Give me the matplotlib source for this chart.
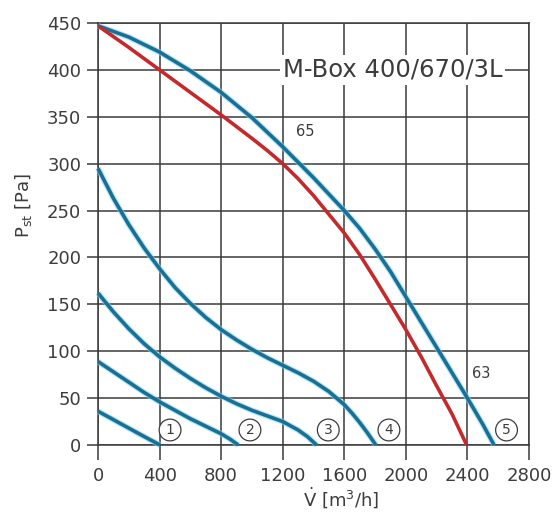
import matplotlib
matplotlib.use("Agg")
import matplotlib.pyplot as plt

plt.rcParams['font.family'] = ['DejaVu Sans']
plt.rcParams['mathtext.fontset'] = 'dejavusans'

# Data (flow V [m3/h], pressure P [Pa])
c1_x = [0, 100, 200, 300, 403]
c1_y = [36, 27, 18, 9, 0]

c2_x = [0, 100, 200, 300, 400, 500, 600, 700, 800, 860, 911]
c2_y = [89, 78, 67, 56, 46, 37, 28, 20, 12, 6, 0]

c3_x = [0, 100, 200, 300, 400, 500, 600, 700, 800, 900, 1000, 1100, 1200, 1300, 1360, 1420]
c3_y = [162, 142, 124, 108, 94, 82, 71, 61, 52, 44, 37, 31, 25, 16, 9, 0]

c4_x = [0, 100, 200, 300, 400, 500, 600, 700, 800, 900, 1000, 1100, 1200, 1300, 1400,
        1500, 1600, 1650, 1700, 1750, 1805]
c4_y = [295, 263, 235, 210, 188, 168, 151, 136, 123, 112, 102, 93, 85, 77, 68,
        57, 43, 34, 24, 13, 0]

c5_x = [0, 200, 400, 600, 800, 1000, 1200, 1400, 1600, 1700, 1800, 1900, 2000, 2100,
        2200, 2300, 2400, 2500, 2573]
c5_y = [447, 435, 419, 399, 376, 349, 318, 285, 250, 231, 209, 185, 158, 131,
        104, 77, 50, 22, 0]

red_x = [0, 200, 400, 600, 800, 1000, 1100, 1200, 1300, 1400, 1500, 1600, 1700, 1800,
         1900, 2000, 2100, 2200, 2300, 2395]
red_y = [447, 424, 400, 376, 352, 327, 314, 300, 284, 266, 246, 226, 203, 177,
         150, 123, 94, 63, 33, 0]

curve_labels = ['1', '2', '3', '4', '5']
curve_label_x = [468, 987, 1496, 1890, 2654]
curve_label_y = [16, 16, 16, 16, 16]

x_ticks = [0, 400, 800, 1200, 1600, 2000, 2400, 2800]
y_ticks = [0, 50, 100, 150, 200, 250, 300, 350, 400, 450]

title = "M-Box 400/670/3L"

BLUE = '#1b6f95'
HALO = '#7fd8f0'
RED = '#c42a2c'
GRID = '#3a3a3a'
TXT = '#3c3c3c'

fig = plt.figure(figsize=(5.57, 5.21), dpi=100)
ax = fig.add_axes([98/557, 1-445/521, 431/557, 422/521])

ax.set_xlim(0, 2800)
ax.set_ylim(0, 450)
ax.set_xticks(x_ticks)
ax.set_yticks(y_ticks)
ax.grid(True, color=GRID, lw=1.1, zorder=1)
for s in ax.spines.values():
    s.set_color(GRID)
    s.set_linewidth(1.1)
ax.tick_params(axis='x', length=11, width=1.1, color=GRID, pad=5,
               labelsize=13, labelcolor=TXT)
ax.tick_params(axis='y', length=8, width=1.1, color=GRID, pad=4,
               labelsize=13, labelcolor=TXT)

for xs, ys in [(c1_x, c1_y), (c2_x, c2_y), (c3_x, c3_y), (c4_x, c4_y), (c5_x, c5_y)]:
    ax.plot(xs, ys, color=HALO, lw=4.2, alpha=0.6, zorder=3, solid_capstyle='butt',
            solid_joinstyle='round', clip_on=False)
    ax.plot(xs, ys, color=BLUE, lw=2.6, zorder=4, solid_capstyle='butt',
            solid_joinstyle='round', clip_on=False)
ax.plot(red_x, red_y, color=RED, lw=2.6, zorder=5, solid_capstyle='butt',
        solid_joinstyle='round')

for lab, lx, ly in zip(curve_labels, curve_label_x, curve_label_y):
    ax.text(lx, ly, lab, ha='center', va='center', fontsize=10, color=TXT, zorder=6,
            bbox=dict(boxstyle='circle,pad=0.28', fc='white', ec=TXT, lw=0.9))

ax.text(1344, 334, "65", ha='center', va='center', fontsize=10.5, color=TXT, zorder=6)
ax.text(2492, 76, "63", ha='center', va='center', fontsize=10.5, color=TXT, zorder=6)

ax.text(1912, 400, title, ha='center', va='center', fontsize=17.5, color=TXT, zorder=6,
        bbox=dict(boxstyle='square,pad=0.12', fc='white', ec='none'))

ax.set_xlabel(r"$\dot{\mathrm{V}}$ [m$^3$/h]", fontsize=13, color=TXT)
ax.xaxis.set_label_coords((341-98)/431, -(498-445)/422)
ax.set_ylabel(r"P$_{\mathrm{st}}$ [Pa]", fontsize=13, color=TXT)
ax.yaxis.set_label_coords((23-98)/431, (445-205)/422)
ax.xaxis.label.set_va('center')
ax.yaxis.label.set_va('center')

fig.savefig("out.png", dpi=100, facecolor='white')
